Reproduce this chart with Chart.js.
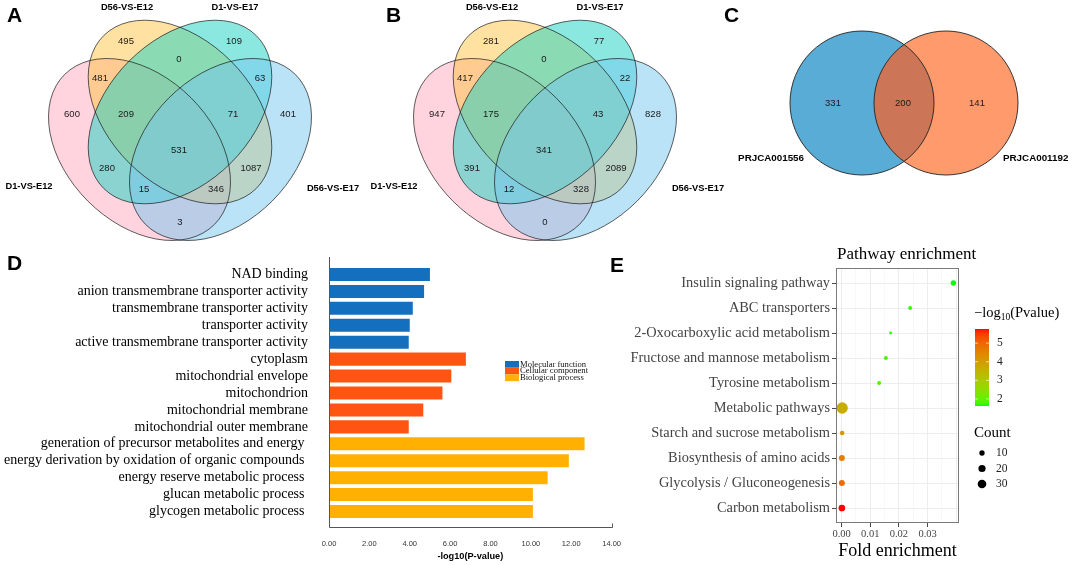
<!DOCTYPE html>
<html>
<head>
<meta charset="utf-8">
<script src="https://cdn.jsdelivr.net/npm/chart.js@4.4.1/dist/chart.umd.min.js"></script>
<style>
  html, body { margin: 0; padding: 0; background: #fff; }
  #fig { position: relative; width: 1072px; height: 565px; overflow: hidden; background: #fff; }
  #fig canvas { position: absolute; }
  .tag { position: absolute; font: bold 21px "Liberation Sans", Arial, sans-serif; line-height: 21px; color: #000; }
</style>
</head>
<body>
<div id="fig">
  <canvas id="vennA" width="365" height="250" style="left:0px;top:0px"></canvas>
  <canvas id="vennB" width="365" height="250" style="left:365px;top:0px"></canvas>
  <canvas id="vennC" width="352" height="200" style="left:720px;top:0px"></canvas>
  <canvas id="goBar" width="640" height="315" style="left:0px;top:250px"></canvas>
  <canvas id="kegg" width="472" height="325" style="left:600px;top:240px"></canvas>
  <div class="tag" style="left:7px;top:4px">A</div>
  <div class="tag" style="left:386px;top:4px">B</div>
  <div class="tag" style="left:724px;top:4px">C</div>
  <div class="tag" style="left:7px;top:252px">D</div>
  <div class="tag" style="left:610px;top:254px">E</div>
</div>
<script>
// ---------- data ----------
const vennSets = ['D1-VS-E12', 'D56-VS-E12', 'D1-VS-E17', 'D56-VS-E17'];
// regions: 1,2,3,4,12,23,34,14,123,234,13,24,1234,134,124
const vennRegions = ['1', '2', '3', '4', '12', '23', '34', '14', '123', '234', '13', '24', '1234', '134', '124'];
const vennACounts = [600, 495, 109, 401, 481, 0, 63, 3, 209, 71, 280, 1087, 531, 15, 346];
const vennBCounts = [947, 281, 77, 828, 417, 0, 22, 0, 175, 43, 391, 2089, 341, 12, 328];

const vennCSets = ['PRJCA001556', 'PRJCA001192'];
const vennCCounts = [331, 200, 141];

const goTerms = [
  'NAD binding',
  'anion transmembrane transporter activity',
  'transmembrane transporter activity',
  'transporter activity',
  'active transmembrane transporter activity',
  'cytoplasm',
  'mitochondrial envelope',
  'mitochondrion',
  'mitochondrial membrane',
  'mitochondrial outer membrane',
  'generation of precursor metabolites and energy ',
  'energy derivation by oxidation of organic compounds ',
  'energy reserve metabolic process ',
  'glucan metabolic process ',
  'glycogen metabolic process '
];
const goValues = [5.0, 4.71, 4.15, 4.0, 3.95, 6.78, 6.06, 5.62, 4.67, 3.95, 12.66, 11.88, 10.83, 10.1, 10.1];
const goGroups = ['Molecular function', 'Cellular component', 'Biological process'];
const goGroupOf = [0, 0, 0, 0, 0, 1, 1, 1, 1, 1, 2, 2, 2, 2, 2];

const pathways = [
  'Insulin signaling pathway',
  'ABC transporters',
  '2-Oxocarboxylic acid metabolism',
  'Fructose and mannose metabolism',
  'Tyrosine metabolism',
  'Metabolic pathways',
  'Starch and sucrose metabolism',
  'Biosynthesis of amino acids',
  'Glycolysis / Gluconeogenesis',
  'Carbon metabolism'
];
const foldEnrichment = [0.0390, 0.0239, 0.0171, 0.01545, 0.0131, 0.0002, 0.0002, 0.0001, 0.0001, 0.0001];
const pathCounts = [10, 5, 2, 5, 5, 54, 7, 13, 13, 17];
const negLogP = [1.62, 1.75, 1.7, 1.8, 1.85, 3.65, 4.1, 4.6, 4.9, 5.76];
const foldTicks = [0, 0.005, 0.01, 0.015, 0.02, 0.025, 0.03, 0.035, 0.04];
const pTicks = [5, 4, 3, 2];
const countTicks = [10, 20, 30];

// ---------- layout / style ----------
const sans = '"Liberation Sans", Arial, sans-serif';
const serif = '"Liberation Serif", "Times New Roman", serif';

// ellipses in local px units: cx, cy, a, b, angle (deg)
const vennShapes = [
  { cx: 139.5, cy: 149.5, a: 106, b: 73, rot: 45, fill: 'rgba(255,170,190,0.5)' },
  { cx: 180, cy: 112, a: 108, b: 72, rot: 45, fill: 'rgba(255,195,70,0.5)' },
  { cx: 180, cy: 112, a: 108, b: 72, rot: -45, fill: 'rgba(30,210,195,0.52)' },
  { cx: 220.5, cy: 149.5, a: 106, b: 73, rot: -45, fill: 'rgba(120,200,240,0.5)' }
];
const vennRegionPos = {
  '1': [72, 114], '2': [126, 41], '3': [234, 41], '4': [288, 114],
  '12': [100, 78], '23': [179, 59], '34': [260, 78], '14': [180, 222],
  '123': [126, 114], '234': [233, 114], '13': [107, 168], '24': [251, 168],
  '1234': [179, 150], '134': [144, 189], '124': [216, 189]
};
const vennSetPos = [[29, 186], [127, 7], [235, 7], [333, 188]];

function vennPlugin(counts) {
  return {
    id: 'venn4',
    afterDraw(chart) {
      const { ctx } = chart;
      const x = chart.scales.x, y = chart.scales.y;
      const px = v => x.getPixelForValue(v), py = v => y.getPixelForValue(v);
      const len = v => px(v) - px(0);
      ctx.save();
      vennShapes.forEach(s => {
        ctx.beginPath();
        ctx.ellipse(px(s.cx), py(s.cy), len(s.a), len(s.b), s.rot * Math.PI / 180, 0, Math.PI * 2);
        ctx.fillStyle = s.fill;
        ctx.fill();
      });
      ctx.strokeStyle = 'rgba(20,20,20,0.85)';
      ctx.lineWidth = 0.8;
      vennShapes.forEach(s => {
        ctx.beginPath();
        ctx.ellipse(px(s.cx), py(s.cy), len(s.a), len(s.b), s.rot * Math.PI / 180, 0, Math.PI * 2);
        ctx.stroke();
      });
      ctx.fillStyle = '#1a1a1a';
      ctx.textAlign = 'center';
      ctx.textBaseline = 'middle';
      ctx.font = '9.5px ' + sans;
      vennRegions.forEach((r, i) => {
        const p = vennRegionPos[r];
        ctx.fillText(String(counts[i]), px(p[0]), py(p[1]));
      });
      ctx.font = 'bold 9.3px ' + sans;
      ctx.fillStyle = '#000';
      vennSets.forEach((s, i) => {
        ctx.fillText(s, px(vennSetPos[i][0]), py(vennSetPos[i][1]));
      });
      ctx.restore();
    }
  };
}

function blankScales(w, h) {
  return {
    x: { type: 'linear', min: 0, max: w, display: false },
    y: { type: 'linear', min: 0, max: h, reverse: true, display: false }
  };
}

function makeVenn(id, counts) {
  const el = document.getElementById(id);
  new Chart(el, {
    type: 'scatter',
    data: { datasets: [] },
    options: {
      responsive: false, animation: false, events: [],
      layout: { padding: 0 },
      plugins: { legend: { display: false }, tooltip: { enabled: false } },
      scales: blankScales(el.width, el.height)
    },
    plugins: [vennPlugin(counts)]
  });
}

makeVenn('vennA', vennACounts);
makeVenn('vennB', vennBCounts);

// two-set venn
const vennCircles = [
  { cx: 142, cy: 103, r: 72, fill: '#58ACD5' },
  { cx: 226, cy: 103, r: 72, fill: '#FF9A6C' }
];
const vennCOverlapFill = '#CC7657';
const vennCNumPos = [[113, 103], [183, 103], [257, 103]];
const vennCSetPos = [[84, 158, 'right'], [283, 158, 'left']];

const venn2Plugin = {
  id: 'venn2',
  afterDraw(chart) {
    const { ctx } = chart;
    const x = chart.scales.x, y = chart.scales.y;
    const px = v => x.getPixelForValue(v), py = v => y.getPixelForValue(v);
    const len = v => px(v) - px(0);
    const circ = c => { ctx.beginPath(); ctx.arc(px(c.cx), py(c.cy), len(c.r), 0, Math.PI * 2); };
    ctx.save();
    vennCircles.forEach(c => { circ(c); ctx.fillStyle = c.fill; ctx.fill(); });
    ctx.save();
    circ(vennCircles[0]); ctx.clip();
    circ(vennCircles[1]); ctx.fillStyle = vennCOverlapFill; ctx.fill();
    ctx.restore();
    ctx.strokeStyle = '#222'; ctx.lineWidth = 0.9;
    vennCircles.forEach(c => { circ(c); ctx.stroke(); });
    ctx.fillStyle = '#1a1a1a';
    ctx.textAlign = 'center'; ctx.textBaseline = 'middle';
    ctx.font = '9.5px ' + sans;
    vennCCounts.forEach((n, i) => ctx.fillText(String(n), px(vennCNumPos[i][0]), py(vennCNumPos[i][1])));
    ctx.font = 'bold 9.8px ' + sans;
    ctx.fillStyle = '#000';
    vennCSets.forEach((s, i) => {
      ctx.textAlign = vennCSetPos[i][2];
      ctx.fillText(s, px(vennCSetPos[i][0]), py(vennCSetPos[i][1]));
    });
    ctx.restore();
  }
};
(function () {
  const el = document.getElementById('vennC');
  new Chart(el, {
    type: 'scatter',
    data: { datasets: [] },
    options: {
      responsive: false, animation: false, events: [],
      layout: { padding: 0 },
      plugins: { legend: { display: false }, tooltip: { enabled: false } },
      scales: blankScales(el.width, el.height)
    },
    plugins: [venn2Plugin]
  });
})();

// ---------- D: GO bar chart ----------
const goColors = ['#1470BE', '#FF5412', '#FFB000'];

const goAxesPlugin = {
  id: 'goAxes',
  afterDraw(chart) {
    const { ctx, chartArea: a } = chart;
    const x = chart.scales.x;
    const x0 = Math.round(x.getPixelForValue(0)) + 0.5;
    const xEnd = Math.round(x.getPixelForValue(x.max)) + 0.5;
    const yb = Math.round(a.bottom + 7) + 0.5;
    ctx.save();
    ctx.strokeStyle = '#555';
    ctx.lineWidth = 1;
    ctx.beginPath();
    ctx.moveTo(x0, a.top - 9);
    ctx.lineTo(x0, yb);
    ctx.lineTo(xEnd, yb);
    ctx.lineTo(xEnd, yb - 4);
    ctx.stroke();
    // legend
    const lx = 505, ly = 111, bw = 14, bh = 6.7;
    ctx.font = '8.6px ' + serif;
    ctx.textAlign = 'left';
    ctx.textBaseline = 'middle';
    chart.data.datasets.forEach((ds, i) => {
      ctx.fillStyle = ds.backgroundColor;
      ctx.fillRect(lx, ly + i * bh, bw, bh);
      ctx.fillStyle = '#111';
      ctx.fillText(ds.label, lx + bw + 1, ly + i * bh + bh / 2);
    });
    ctx.restore();
  }
};

new Chart(document.getElementById('goBar'), {
  type: 'bar',
  data: {
    labels: goTerms,
    datasets: goGroups.map((g, k) => ({
      label: g,
      data: goValues.map((v, i) => (goGroupOf[i] === k ? v : null)),
      backgroundColor: goColors[k],
      borderWidth: 0,
      barPercentage: 0.77,
      categoryPercentage: 1
    }))
  },
  options: {
    indexAxis: 'y',
    responsive: false, animation: false, events: [],
    layout: { padding: { top: 16, right: 25, left: 0, bottom: 0 } },
    plugins: { legend: { display: false }, tooltip: { enabled: false } },
    scales: {
      y: {
        stacked: true,
        grid: { display: false, drawTicks: false },
        border: { display: false },
        afterFit(s) { s.width = 329; s.paddingTop = 0; s.paddingBottom = 0; },
        ticks: { autoSkip: false, padding: 21, color: '#000', font: { family: serif, size: 14 } }
      },
      x: {
        stacked: true,
        min: 0, max: 14,
        grid: { display: false, drawTicks: false },
        border: { display: false },
        afterFit(s) { s.height = 45; },
        ticks: {
          stepSize: 2, padding: 19, color: '#333', maxRotation: 0,
          font: { family: sans, size: 7.5 },
          callback: v => Number(v).toFixed(2)
        },
        title: {
          display: true, text: '-log10(P-value)', color: '#000',
          font: { family: sans, size: 9.2, weight: 'bold' },
          padding: { top: 2, bottom: 3.5 }
        }
      }
    }
  },
  plugins: [goAxesPlugin]
});

// ---------- E: KEGG bubble chart ----------
function toLin(c) { c /= 255; return c <= 0.04045 ? c / 12.92 : Math.pow((c + 0.055) / 1.055, 2.4); }
function toSrgb(c) {
  c = c <= 0.0031308 ? 12.92 * c : 1.055 * Math.pow(c, 1 / 2.4) - 0.055;
  return Math.round(Math.max(0, Math.min(1, c)) * 255);
}
function rgb2lab(rgb) {
  const r = toLin(rgb[0]), g = toLin(rgb[1]), b = toLin(rgb[2]);
  const X = (0.4124 * r + 0.3576 * g + 0.1805 * b) / 0.95047;
  const Y = 0.2126 * r + 0.7152 * g + 0.0722 * b;
  const Z = (0.0193 * r + 0.1192 * g + 0.9505 * b) / 1.08883;
  const f = t => (t > 0.008856 ? Math.cbrt(t) : 7.787 * t + 16 / 116);
  const fx = f(X), fy = f(Y), fz = f(Z);
  return [116 * fy - 16, 500 * (fx - fy), 200 * (fy - fz)];
}
function lab2rgb(lab) {
  const fy = (lab[0] + 16) / 116, fx = fy + lab[1] / 500, fz = fy - lab[2] / 200;
  const inv = t => (t * t * t > 0.008856 ? t * t * t : (t - 16 / 116) / 7.787);
  const X = inv(fx) * 0.95047, Y = inv(fy), Z = inv(fz) * 1.08883;
  return [
    toSrgb(3.2406 * X - 1.5372 * Y - 0.4986 * Z),
    toSrgb(-0.9689 * X + 1.8758 * Y + 0.0415 * Z),
    toSrgb(0.0557 * X - 0.2040 * Y + 1.0570 * Z)
  ];
}
const labLow = rgb2lab([0, 255, 0]), labHigh = rgb2lab([255, 0, 0]);
const pMin = Math.min(...negLogP), pMax = Math.max(...negLogP);
function pColor(v) {
  const t = (v - pMin) / (pMax - pMin);
  const c = lab2rgb(labLow.map((l, i) => l + (labHigh[i] - l) * t));
  return 'rgb(' + c.join(',') + ')';
}
function bubbleR(n) { return 0.4 + 0.715 * Math.sqrt(n); }

const keggDecor = {
  id: 'keggDecor',
  afterDraw(chart) {
    const { ctx, chartArea: a } = chart;
    ctx.save();
    // panel border
    ctx.strokeStyle = '#7a7a7a';
    ctx.lineWidth = 1;
    ctx.strokeRect(Math.round(a.left) + 0.5, Math.round(a.top) + 0.5, Math.round(a.width) - 1, Math.round(a.height) - 1);
    // title
    ctx.fillStyle = '#000';
    ctx.font = '17px ' + serif;
    ctx.textAlign = 'left';
    ctx.textBaseline = 'middle';
    ctx.fillText('Pathway enrichment', a.left + 1, a.top - 13);
    // colour legend
    const lx = a.right + 16;
    ctx.font = '14.5px ' + serif;
    ctx.fillText('\u2212log', lx - 1, 73);
    const w = ctx.measureText('\u2212log').width;
    ctx.font = '9.5px ' + serif;
    ctx.fillText('10', lx - 1 + w, 77);
    const w2 = ctx.measureText('10').width;
    ctx.font = '14.5px ' + serif;
    ctx.fillText('(Pvalue)', lx - 1 + w + w2, 73);
    const barTop = 89, barBot = 166, barW = 14;
    const grad = ctx.createLinearGradient(0, barBot, 0, barTop);
    for (let k = 0; k <= 60; k++) grad.addColorStop(k / 60, pColor(pMin + (pMax - pMin) * k / 60));
    ctx.fillStyle = grad;
    ctx.fillRect(lx, barTop, barW, barBot - barTop);
    ctx.font = '11.5px ' + serif;
    pTicks.forEach(v => {
      const yy = barBot - (v - pMin) / (pMax - pMin) * (barBot - barTop);
      ctx.strokeStyle = 'rgba(255,255,255,0.8)';
      ctx.lineWidth = 0.8;
      ctx.beginPath();
      ctx.moveTo(lx, yy); ctx.lineTo(lx + 3, yy);
      ctx.moveTo(lx + barW - 3, yy); ctx.lineTo(lx + barW, yy);
      ctx.stroke();
      ctx.fillStyle = '#222';
      ctx.fillText(String(v), lx + barW + 8, yy);
    });
    // size legend
    ctx.fillStyle = '#000';
    ctx.font = '15px ' + serif;
    ctx.fillText('Count', lx - 1, 193);
    ctx.font = '11.5px ' + serif;
    countTicks.forEach((n, i) => {
      const yy = 213 + i * 15.5;
      ctx.beginPath();
      ctx.arc(lx + 7, yy, bubbleR(n), 0, Math.PI * 2);
      ctx.fillStyle = '#000';
      ctx.fill();
      ctx.fillStyle = '#222';
      ctx.fillText(String(n), lx + 21, yy);
    });
    ctx.restore();
  }
};

new Chart(document.getElementById('kegg'), {
  type: 'bubble',
  data: {
    datasets: [{
      data: pathways.map((p, i) => ({ x: foldEnrichment[i], y: i, r: bubbleR(pathCounts[i]) })),
      backgroundColor: negLogP.map(pColor),
      borderWidth: 0,
      clip: false
    }]
  },
  options: {
    responsive: false, animation: false, events: [],
    layout: { padding: { top: 28, right: 113, left: 0, bottom: 0 } },
    plugins: { legend: { display: false }, tooltip: { enabled: false } },
    scales: {
      y: {
        type: 'linear', reverse: true, min: -0.6, max: 9.6,
        afterBuildTicks(s) { s.ticks = pathways.map((_, i) => ({ value: i })); },
        afterFit(s) { s.width = 236; },
        border: { display: false },
        grid: { color: '#ebebeb', lineWidth: 0.9, tickColor: '#333', tickLength: 4 },
        ticks: {
          autoSkip: false, padding: 2, color: '#444',
          font: { family: serif, size: 14.4 },
          callback: v => pathways[v]
        }
      },
      x: {
        type: 'linear', min: -0.00195, max: 0.04095,
        afterBuildTicks(s) { s.ticks = foldTicks.map(v => ({ value: v })); },
        afterFit(s) { s.height = 42; },
        border: { display: false },
        grid: {
          color: c => (c.index % 2 ? '#f3f3f3' : '#ebebeb'),
          lineWidth: c => (c.index % 2 ? 0.6 : 0.9),
          tickColor: c => (c.index % 2 || c.index > 6 ? 'rgba(0,0,0,0)' : '#333'),
          tickLength: 4
        },
        ticks: {
          autoSkip: false, maxRotation: 0, padding: 1, color: '#444',
          font: { family: serif, size: 10.5 },
          callback: (v, i) => (i % 2 || i > 6 ? '' : Number(v).toFixed(2))
        },
        title: {
          display: true, text: 'Fold enrichment', color: '#000',
          font: { family: serif, size: 18 },
          padding: { top: 0, bottom: 3 }
        }
      }
    }
  },
  plugins: [keggDecor]
});
</script>
</body>
</html>
